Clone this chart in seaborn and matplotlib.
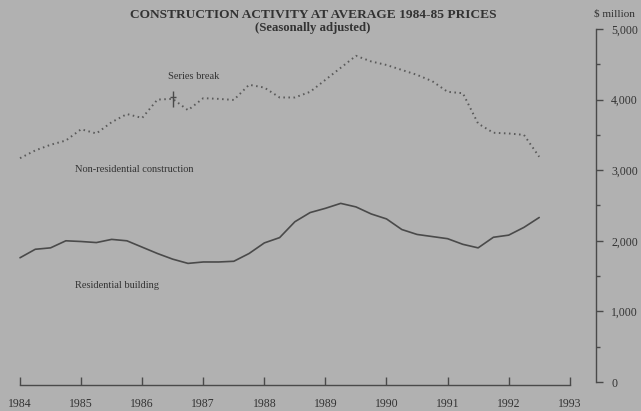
import numpy as np
import pandas as pd
import matplotlib
matplotlib.use("Agg")
import matplotlib.pyplot as plt
import seaborn as sns

# quarterly, 1984 Q1 to 1992 Q3 ($ million, seasonally adjusted)
quarters = [1984 + i * 0.25 for i in range(35)]
residential = [1760, 1880, 1900, 2000, 1990, 1975, 2020, 2000, 1910, 1820,
               1740, 1680, 1700, 1700, 1710, 1820, 1970, 2045, 2270, 2400,
               2460, 2530, 2480, 2380, 2310, 2160, 2090, 2060, 2030, 1950,
               1900, 2050, 2080, 2190, 2330]
non_residential = [3170, 3280, 3360, 3420, 3580, 3520, 3680, 3795, 3740, 4000,
                   4010, 3850, 4020, 4010, 3995, 4210, 4170, 4030, 4030, 4110,
                   4280, 4450, 4620, 4540, 4490, 4420, 4350, 4260, 4110, 4090,
                   3660, 3530, 3520, 3500, 3190]
break_quarter = 1986.5
year_ticks = list(range(1984, 1994))
value_ticks = [0, 1000, 2000, 3000, 4000, 5000]

df = pd.DataFrame({"quarter": quarters, "residential": residential,
                   "non_residential": non_residential})

bg = "#b1b1b1"
ink = "#4a4a4a"
sns.set_style("white", {"axes.facecolor": bg, "figure.facecolor": bg})
plt.rcParams["font.family"] = ["Liberation Serif", "DejaVu Serif"]

fig = plt.figure(figsize=(6.41, 4.11), dpi=100)
ax = fig.add_axes([0.0217, 0.0628, 0.9081, 0.8667])

sns.lineplot(data=df, x="quarter", y="non_residential", ax=ax, color="#5a5a5a",
             linewidth=1.4, linestyle=(0, (0.8, 1.8)))
sns.lineplot(data=df, x="quarter", y="residential", ax=ax, color=ink,
             linewidth=1.2)

# series break marker
yb = non_residential[quarters.index(break_quarter)]
ax.plot([break_quarter], [yb], marker="|", markersize=11, color=ink, mew=1.0)
ax.plot([break_quarter], [yb + 30], marker="_", markersize=5, color=ink, mew=1.0)

ax.set_xlim(1983.9, 1993.43)
ax.set_ylim(-45, 5000)
ax.set_xlabel("")
ax.set_ylabel("")

for s in ["top", "left"]:
    ax.spines[s].set_visible(False)
ax.spines["bottom"].set_bounds(1984, 1993)
ax.spines["right"].set_bounds(0, 5000)
ax.spines["bottom"].set_color(ink)
ax.spines["right"].set_color(ink)
ax.spines["bottom"].set_linewidth(1.0)
ax.spines["right"].set_linewidth(1.0)

ax.set_xticks(year_ticks)
ax.set_xticklabels([str(y) for y in year_ticks])
ax.tick_params(axis="x", direction="in", length=6, width=1.0, color=ink,
               labelsize=8.5, labelcolor="#333333", pad=9, bottom=True)

ax.yaxis.tick_right()
ax.set_yticks(value_ticks)
ax.set_yticklabels([f"{v:,}" for v in value_ticks])
ax.set_yticks(np.arange(500, 5000, 1000), minor=True)
ax.tick_params(axis="y", which="major", direction="out", length=5, width=1.0,
               color=ink, labelsize=8.5, labelcolor="#333333", pad=6, right=True)
ax.tick_params(axis="y", which="minor", direction="out", length=3, width=1.0,
               color=ink, right=True)

ax.text(1986.42, 4320, "Series break", fontsize=7.5, color="#333333", va="center")
ax.text(1984.9, 3003, "Non-residential construction", fontsize=7.5,
        color="#333333", va="center")
ax.text(1984.9, 1360, "Residential building", fontsize=7.5, color="#333333",
        va="center")

fig.text(313 / 641, 1 - 15 / 411, "CONSTRUCTION ACTIVITY AT AVERAGE 1984-85 PRICES",
         ha="center", va="center", fontsize=9.6, fontweight="bold", color="#333333")
fig.text(313 / 641, 1 - 28 / 411, "(Seasonally adjusted)", ha="center",
         va="center", fontsize=9.2, fontweight="bold", color="#333333")
fig.text(614 / 641, 1 - 14 / 411, "$ million", ha="center", va="center",
         fontsize=8, color="#333333")

fig.savefig("out.png", dpi=100, facecolor=bg)
